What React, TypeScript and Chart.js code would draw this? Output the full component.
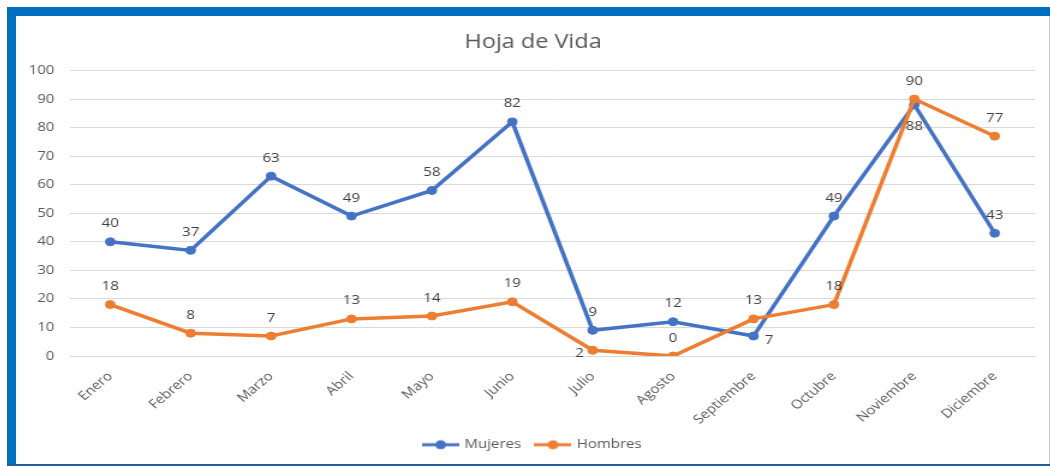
import React, { useEffect, useRef } from "react";
import { Chart, registerables } from "chart.js";

Chart.register(...registerables);

const months = ["Enero", "Febrero", "Marzo", "Abril", "Mayo", "Junio", "Julio", "Agosto", "Septiembre", "Octubre", "Noviembre", "Diciembre"];
const mujeres = [40, 37, 63, 49, 58, 82, 9, 12, 7, 49, 88, 43];
const hombres = [18, 8, 7, 13, 14, 19, 2, 0, 13, 18, 90, 77];
const mujeresLabelPos = ["above", "above", "above", "above", "above", "above", "above", "above", "right", "above", "below", "above"];
const hombresLabelPos = ["above", "above", "above", "above", "above", "above", "left", "above", "above", "above", "above", "above"];

const BLUE = "#4472C4";
const ORANGE = "#ED7D31";
const TEXT = "#595959";
const FONT = '"Open Sans", "Noto Sans", sans-serif';

// The reference picture is horizontally stretched; the chart is drawn narrower and stretched with CSS.
const STRETCH = 1.2;
const CANVAS_W = 1033 / STRETCH;

function legendImage(color: string): HTMLCanvasElement {
  const c = document.createElement("canvas");
  c.width = 31;
  c.height = 12;
  const g = c.getContext("2d")!;
  g.strokeStyle = color;
  g.lineWidth = 3;
  g.beginPath();
  g.moveTo(0, 6);
  g.lineTo(31, 6);
  g.stroke();
  g.fillStyle = color;
  g.beginPath();
  g.arc(15.5, 6, 4.5, 0, Math.PI * 2);
  g.fill();
  return c;
}

const dataLabelPlugin = {
  id: "dataLabels",
  afterDatasetsDraw(chart: any) {
    const ctx = chart.ctx;
    const positions = [mujeresLabelPos, hombresLabelPos];
    ctx.save();
    ctx.font = `12.5px ${FONT}`;
    ctx.fillStyle = "#404040";
    ctx.textAlign = "center";
    ctx.textBaseline = "middle";
    chart.data.datasets.forEach((ds: any, di: number) => {
      const meta = chart.getDatasetMeta(di);
      meta.data.forEach((pt: any, i: number) => {
        const pos = positions[di][i];
        let x = pt.x;
        let y = pt.y;
        if (pos === "above") y -= 18;
        else if (pos === "below") y += 22;
        else if (pos === "right") {
          x += 13;
          y += 4;
        } else if (pos === "left") {
          x -= 11;
          y += 3;
        }
        ctx.fillText(String(ds.data[i]), x, y);
      });
    });
    ctx.restore();
  },
};

export default function App() {
  const ref = useRef<HTMLCanvasElement>(null);

  useEffect(() => {
    if (!ref.current) return;
    const chart = new Chart(ref.current, {
      type: "line",
      data: {
        labels: months,
        datasets: [
          {
            label: "Mujeres",
            data: mujeres,
            borderColor: BLUE,
            backgroundColor: BLUE,
            pointBackgroundColor: BLUE,
            pointBorderColor: BLUE,
            borderWidth: 3.5,
            pointRadius: 4,
            pointBorderWidth: 1,
            pointStyle: "circle",
            order: 1,
            tension: 0,
          } as any,
          {
            label: "Hombres",
            data: hombres,
            borderColor: ORANGE,
            backgroundColor: ORANGE,
            pointBackgroundColor: ORANGE,
            pointBorderColor: ORANGE,
            borderWidth: 3.5,
            pointRadius: 4,
            pointBorderWidth: 1,
            pointStyle: "circle",
            order: 0,
            tension: 0,
          } as any,
        ],
      },
      options: {
        animation: false,
        responsive: true,
        maintainAspectRatio: false,
        layout: { padding: { left: 0, right: 0, top: 0, bottom: 3 } },
        plugins: {
          title: {
            display: true,
            text: "Hoja de Vida",
            color: TEXT,
            font: { family: FONT, size: 19.5, weight: "normal" as any },
            padding: { top: 14.3, bottom: 16.8 },
          },
          legend: {
            position: "bottom",
            labels: {
              color: TEXT,
              font: { family: FONT, size: 12.5 },
              usePointStyle: true,
              pointStyleWidth: 27,
              padding: 13,
              sort: (a: any, b: any) => a.datasetIndex - b.datasetIndex,
              generateLabels: (chart: any) =>
                chart.data.datasets.map((ds: any, i: number) => ({
                  text: ds.label,
                  fillStyle: ds.borderColor,
                  strokeStyle: ds.borderColor,
                  fontColor: TEXT,
                  lineWidth: 0,
                  pointStyle: legendImage(ds.borderColor),
                  datasetIndex: i,
                  hidden: false,
                })),
            },
          },
          tooltip: { enabled: false },
        },
        scales: {
          x: {
            offset: true,
            grid: { display: false, drawTicks: false },
            border: { display: true, color: "#d9d9d9", width: 1 },
            ticks: {
              color: TEXT,
              font: { family: FONT, size: 12.5 },
              minRotation: 45,
              maxRotation: 45,
              padding: 13,
              autoSkip: false,
            },
            afterFit: (s: any) => {
              s.height = 69.5;
            },
          },
          y: {
            min: 0,
            max: 100,
            grid: { color: "#d9d9d9", lineWidth: 1, drawTicks: false },
            border: { display: false },
            ticks: {
              stepSize: 10,
              color: TEXT,
              font: { family: FONT, size: 12.5 },
              padding: 13,
            },
            afterFit: (s: any) => {
              s.width = 45;
            },
          },
          yRight: {
            position: "right",
            display: true,
            grid: { display: false, drawTicks: false },
            border: { display: false },
            ticks: { display: false },
            afterFit: (s: any) => {
              s.width = 12.7;
            },
          },
        },
      },
      plugins: [dataLabelPlugin],
    });
    return () => chart.destroy();
  }, []);

  return (
    <div style={{ position: "fixed", left: 0, top: 0, width: 1050, height: 466, background: "#fff", overflow: "hidden" }}>
      <div
        style={{
          position: "absolute",
          left: 16,
          top: 16,
          width: CANVAS_W,
          height: 448,
          transform: `scaleX(${STRETCH})`,
          transformOrigin: "0 0",
        }}
      >
        <canvas ref={ref} />
      </div>
      <div style={{ position: "absolute", left: 7, top: 7, width: 1043, height: 9, background: "#0070C0" }} />
      <div style={{ position: "absolute", left: 7, top: 7, width: 9, height: 459, background: "#0070C0" }} />
      <div style={{ position: "absolute", left: 7, top: 464, width: 1043, height: 2, background: "#1F5E99" }} />
      <div style={{ position: "absolute", left: 1049, top: 16, width: 1, height: 448, background: "#d0d0d0" }} />
    </div>
  );
}
